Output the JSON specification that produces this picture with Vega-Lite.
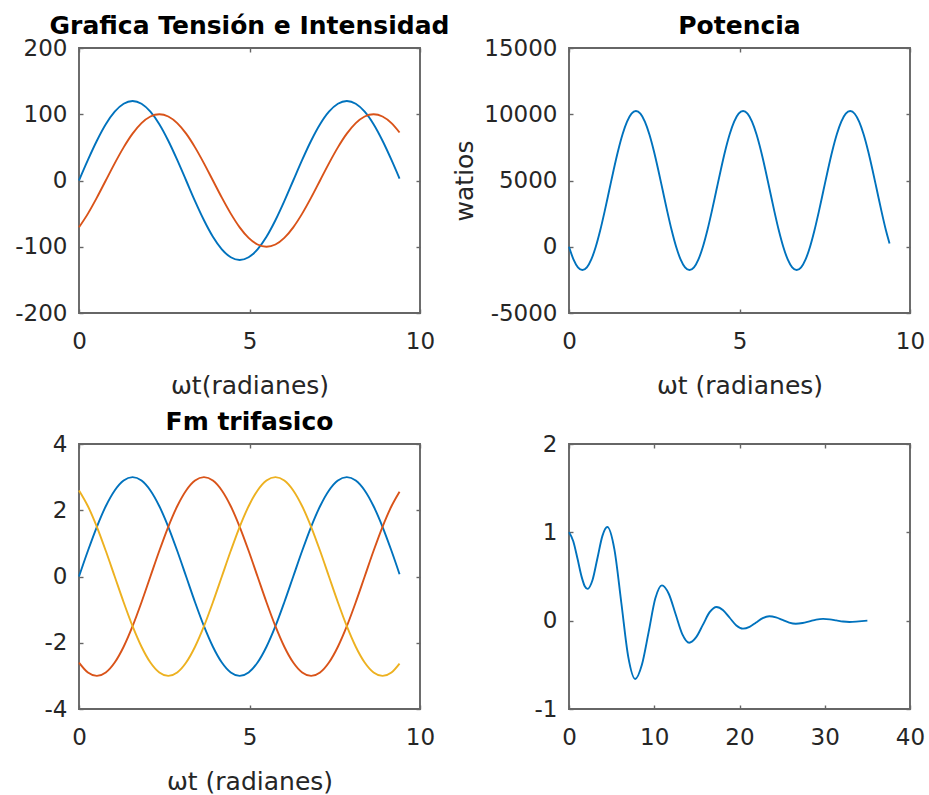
{
  "$schema": "https://vega.github.io/schema/vega-lite/v6.json",
  "padding": {"left": 13, "top": 13, "right": 5, "bottom": 2},
  "background": "white",
  "bounds": "flush",
  "columns": 2,
  "spacing": {"row": 131, "column": 149},
  "datasets": {
    "p1": [
      {"x":0,"y":0,"s":"blue"},{"x":0.262,"y":31.1,"s":"blue"},{"x":0.524,"y":60,"s":"blue"},{"x":0.785,"y":84.9,"s":"blue"},{"x":1.047,"y":103.9,"s":"blue"},{"x":1.309,"y":115.9,"s":"blue"},{"x":1.571,"y":120,"s":"blue"},{"x":1.833,"y":115.9,"s":"blue"},{"x":2.094,"y":103.9,"s":"blue"},{"x":2.356,"y":84.9,"s":"blue"},{"x":2.618,"y":60,"s":"blue"},{"x":2.88,"y":31.1,"s":"blue"},{"x":3.142,"y":0,"s":"blue"},{"x":3.403,"y":-31.1,"s":"blue"},{"x":3.665,"y":-60,"s":"blue"},{"x":3.927,"y":-84.9,"s":"blue"},{"x":4.189,"y":-103.9,"s":"blue"},{"x":4.451,"y":-115.9,"s":"blue"},{"x":4.712,"y":-120,"s":"blue"},{"x":4.974,"y":-115.9,"s":"blue"},{"x":5.236,"y":-103.9,"s":"blue"},{"x":5.498,"y":-84.9,"s":"blue"},{"x":5.76,"y":-60,"s":"blue"},{"x":6.021,"y":-31.1,"s":"blue"},{"x":6.283,"y":0,"s":"blue"},{"x":6.545,"y":31.1,"s":"blue"},{"x":6.807,"y":60,"s":"blue"},{"x":7.069,"y":84.9,"s":"blue"},{"x":7.33,"y":103.9,"s":"blue"},{"x":7.592,"y":115.9,"s":"blue"},{"x":7.854,"y":120,"s":"blue"},{"x":8.116,"y":115.9,"s":"blue"},{"x":8.378,"y":103.9,"s":"blue"},{"x":8.639,"y":84.9,"s":"blue"},{"x":8.901,"y":60,"s":"blue"},{"x":9.163,"y":31.1,"s":"blue"},{"x":9.4,"y":3,"s":"blue"},
      {"x":0,"y":-70.7,"s":"orange"},{"x":0.262,"y":-50,"s":"orange"},{"x":0.524,"y":-25.9,"s":"orange"},{"x":0.785,"y":0,"s":"orange"},{"x":1.047,"y":25.9,"s":"orange"},{"x":1.309,"y":50,"s":"orange"},{"x":1.571,"y":70.7,"s":"orange"},{"x":1.833,"y":86.6,"s":"orange"},{"x":2.094,"y":96.6,"s":"orange"},{"x":2.356,"y":100,"s":"orange"},{"x":2.618,"y":96.6,"s":"orange"},{"x":2.88,"y":86.6,"s":"orange"},{"x":3.142,"y":70.7,"s":"orange"},{"x":3.403,"y":50,"s":"orange"},{"x":3.665,"y":25.9,"s":"orange"},{"x":3.927,"y":0,"s":"orange"},{"x":4.189,"y":-25.9,"s":"orange"},{"x":4.451,"y":-50,"s":"orange"},{"x":4.712,"y":-70.7,"s":"orange"},{"x":4.974,"y":-86.6,"s":"orange"},{"x":5.236,"y":-96.6,"s":"orange"},{"x":5.498,"y":-100,"s":"orange"},{"x":5.76,"y":-96.6,"s":"orange"},{"x":6.021,"y":-86.6,"s":"orange"},{"x":6.283,"y":-70.7,"s":"orange"},{"x":6.545,"y":-50,"s":"orange"},{"x":6.807,"y":-25.9,"s":"orange"},{"x":7.069,"y":0,"s":"orange"},{"x":7.33,"y":25.9,"s":"orange"},{"x":7.592,"y":50,"s":"orange"},{"x":7.854,"y":70.7,"s":"orange"},{"x":8.116,"y":86.6,"s":"orange"},{"x":8.378,"y":96.6,"s":"orange"},{"x":8.639,"y":100,"s":"orange"},{"x":8.901,"y":96.6,"s":"orange"},{"x":9.163,"y":86.6,"s":"orange"},{"x":9.4,"y":72.5,"s":"orange"}
    ],
    "p2": [
      {"x":0,"y":0,"s":"blue"},{"x":0.131,"y":-953,"s":"blue"},{"x":0.262,"y":-1553,"s":"blue"},{"x":0.393,"y":-1757,"s":"blue"},{"x":0.524,"y":-1553,"s":"blue"},{"x":0.654,"y":-953,"s":"blue"},{"x":0.785,"y":0,"s":"blue"},{"x":0.916,"y":1243,"s":"blue"},{"x":1.047,"y":2690,"s":"blue"},{"x":1.178,"y":4243,"s":"blue"},{"x":1.309,"y":5796,"s":"blue"},{"x":1.44,"y":7243,"s":"blue"},{"x":1.571,"y":8486,"s":"blue"},{"x":1.702,"y":9439,"s":"blue"},{"x":1.833,"y":10039,"s":"blue"},{"x":1.963,"y":10243,"s":"blue"},{"x":2.094,"y":10039,"s":"blue"},{"x":2.225,"y":9439,"s":"blue"},{"x":2.356,"y":8486,"s":"blue"},{"x":2.487,"y":7243,"s":"blue"},{"x":2.618,"y":5796,"s":"blue"},{"x":2.749,"y":4243,"s":"blue"},{"x":2.88,"y":2690,"s":"blue"},{"x":3.011,"y":1243,"s":"blue"},
      {"x":3.142,"y":0,"s":"blue"},{"x":3.272,"y":-953,"s":"blue"},{"x":3.403,"y":-1553,"s":"blue"},{"x":3.534,"y":-1757,"s":"blue"},{"x":3.665,"y":-1553,"s":"blue"},{"x":3.796,"y":-953,"s":"blue"},{"x":3.927,"y":0,"s":"blue"},{"x":4.058,"y":1243,"s":"blue"},{"x":4.189,"y":2690,"s":"blue"},{"x":4.32,"y":4243,"s":"blue"},{"x":4.451,"y":5796,"s":"blue"},{"x":4.581,"y":7243,"s":"blue"},{"x":4.712,"y":8486,"s":"blue"},{"x":4.843,"y":9439,"s":"blue"},{"x":4.974,"y":10039,"s":"blue"},{"x":5.105,"y":10243,"s":"blue"},{"x":5.236,"y":10039,"s":"blue"},{"x":5.367,"y":9439,"s":"blue"},{"x":5.498,"y":8486,"s":"blue"},{"x":5.629,"y":7243,"s":"blue"},{"x":5.76,"y":5796,"s":"blue"},{"x":5.89,"y":4243,"s":"blue"},{"x":6.021,"y":2690,"s":"blue"},{"x":6.152,"y":1243,"s":"blue"},
      {"x":6.283,"y":0,"s":"blue"},{"x":6.414,"y":-953,"s":"blue"},{"x":6.545,"y":-1553,"s":"blue"},{"x":6.676,"y":-1757,"s":"blue"},{"x":6.807,"y":-1553,"s":"blue"},{"x":6.938,"y":-953,"s":"blue"},{"x":7.069,"y":0,"s":"blue"},{"x":7.199,"y":1243,"s":"blue"},{"x":7.33,"y":2690,"s":"blue"},{"x":7.461,"y":4243,"s":"blue"},{"x":7.592,"y":5796,"s":"blue"},{"x":7.723,"y":7243,"s":"blue"},{"x":7.854,"y":8486,"s":"blue"},{"x":7.985,"y":9439,"s":"blue"},{"x":8.116,"y":10039,"s":"blue"},{"x":8.247,"y":10243,"s":"blue"},{"x":8.378,"y":10039,"s":"blue"},{"x":8.508,"y":9439,"s":"blue"},{"x":8.639,"y":8486,"s":"blue"},{"x":8.77,"y":7243,"s":"blue"},{"x":8.901,"y":5796,"s":"blue"},{"x":9.032,"y":4243,"s":"blue"},{"x":9.163,"y":2690,"s":"blue"},{"x":9.294,"y":1243,"s":"blue"},{"x":9.4,"y":250,"s":"blue"}
    ],
    "p3": [
      {"x":0,"y":0,"s":"blue"},{"x":0.262,"y":0.776,"s":"blue"},{"x":0.524,"y":1.5,"s":"blue"},{"x":0.785,"y":2.121,"s":"blue"},{"x":1.047,"y":2.598,"s":"blue"},{"x":1.309,"y":2.898,"s":"blue"},{"x":1.571,"y":3,"s":"blue"},{"x":1.833,"y":2.898,"s":"blue"},{"x":2.094,"y":2.598,"s":"blue"},{"x":2.356,"y":2.121,"s":"blue"},{"x":2.618,"y":1.5,"s":"blue"},{"x":2.88,"y":0.776,"s":"blue"},{"x":3.142,"y":0,"s":"blue"},{"x":3.403,"y":-0.776,"s":"blue"},{"x":3.665,"y":-1.5,"s":"blue"},{"x":3.927,"y":-2.121,"s":"blue"},{"x":4.189,"y":-2.598,"s":"blue"},{"x":4.451,"y":-2.898,"s":"blue"},{"x":4.712,"y":-3,"s":"blue"},{"x":4.974,"y":-2.898,"s":"blue"},{"x":5.236,"y":-2.598,"s":"blue"},{"x":5.498,"y":-2.121,"s":"blue"},{"x":5.76,"y":-1.5,"s":"blue"},{"x":6.021,"y":-0.776,"s":"blue"},{"x":6.283,"y":0,"s":"blue"},{"x":6.545,"y":0.776,"s":"blue"},{"x":6.807,"y":1.5,"s":"blue"},{"x":7.069,"y":2.121,"s":"blue"},{"x":7.33,"y":2.598,"s":"blue"},{"x":7.592,"y":2.898,"s":"blue"},{"x":7.854,"y":3,"s":"blue"},{"x":8.116,"y":2.898,"s":"blue"},{"x":8.378,"y":2.598,"s":"blue"},{"x":8.639,"y":2.121,"s":"blue"},{"x":8.901,"y":1.5,"s":"blue"},{"x":9.163,"y":0.776,"s":"blue"},{"x":9.4,"y":0.07,"s":"blue"},
      {"x":0,"y":-2.598,"s":"orange"},{"x":0.262,"y":-2.898,"s":"orange"},{"x":0.524,"y":-3,"s":"orange"},{"x":0.785,"y":-2.898,"s":"orange"},{"x":1.047,"y":-2.598,"s":"orange"},{"x":1.309,"y":-2.121,"s":"orange"},{"x":1.571,"y":-1.5,"s":"orange"},{"x":1.833,"y":-0.776,"s":"orange"},{"x":2.094,"y":0,"s":"orange"},{"x":2.356,"y":0.776,"s":"orange"},{"x":2.618,"y":1.5,"s":"orange"},{"x":2.88,"y":2.121,"s":"orange"},{"x":3.142,"y":2.598,"s":"orange"},{"x":3.403,"y":2.898,"s":"orange"},{"x":3.665,"y":3,"s":"orange"},{"x":3.927,"y":2.898,"s":"orange"},{"x":4.189,"y":2.598,"s":"orange"},{"x":4.451,"y":2.121,"s":"orange"},{"x":4.712,"y":1.5,"s":"orange"},{"x":4.974,"y":0.776,"s":"orange"},{"x":5.236,"y":0,"s":"orange"},{"x":5.498,"y":-0.776,"s":"orange"},{"x":5.76,"y":-1.5,"s":"orange"},{"x":6.021,"y":-2.121,"s":"orange"},{"x":6.283,"y":-2.598,"s":"orange"},{"x":6.545,"y":-2.898,"s":"orange"},{"x":6.807,"y":-3,"s":"orange"},{"x":7.069,"y":-2.898,"s":"orange"},{"x":7.33,"y":-2.598,"s":"orange"},{"x":7.592,"y":-2.121,"s":"orange"},{"x":7.854,"y":-1.5,"s":"orange"},{"x":8.116,"y":-0.776,"s":"orange"},{"x":8.378,"y":0,"s":"orange"},{"x":8.639,"y":0.776,"s":"orange"},{"x":8.901,"y":1.5,"s":"orange"},{"x":9.163,"y":2.121,"s":"orange"},{"x":9.4,"y":2.56,"s":"orange"},
      {"x":0,"y":2.598,"s":"yellow"},{"x":0.262,"y":2.121,"s":"yellow"},{"x":0.524,"y":1.5,"s":"yellow"},{"x":0.785,"y":0.776,"s":"yellow"},{"x":1.047,"y":0,"s":"yellow"},{"x":1.309,"y":-0.776,"s":"yellow"},{"x":1.571,"y":-1.5,"s":"yellow"},{"x":1.833,"y":-2.121,"s":"yellow"},{"x":2.094,"y":-2.598,"s":"yellow"},{"x":2.356,"y":-2.898,"s":"yellow"},{"x":2.618,"y":-3,"s":"yellow"},{"x":2.88,"y":-2.898,"s":"yellow"},{"x":3.142,"y":-2.598,"s":"yellow"},{"x":3.403,"y":-2.121,"s":"yellow"},{"x":3.665,"y":-1.5,"s":"yellow"},{"x":3.927,"y":-0.776,"s":"yellow"},{"x":4.189,"y":0,"s":"yellow"},{"x":4.451,"y":0.776,"s":"yellow"},{"x":4.712,"y":1.5,"s":"yellow"},{"x":4.974,"y":2.121,"s":"yellow"},{"x":5.236,"y":2.598,"s":"yellow"},{"x":5.498,"y":2.898,"s":"yellow"},{"x":5.76,"y":3,"s":"yellow"},{"x":6.021,"y":2.898,"s":"yellow"},{"x":6.283,"y":2.598,"s":"yellow"},{"x":6.545,"y":2.121,"s":"yellow"},{"x":6.807,"y":1.5,"s":"yellow"},{"x":7.069,"y":0.776,"s":"yellow"},{"x":7.33,"y":0,"s":"yellow"},{"x":7.592,"y":-0.776,"s":"yellow"},{"x":7.854,"y":-1.5,"s":"yellow"},{"x":8.116,"y":-2.121,"s":"yellow"},{"x":8.378,"y":-2.598,"s":"yellow"},{"x":8.639,"y":-2.898,"s":"yellow"},{"x":8.901,"y":-3,"s":"yellow"},{"x":9.163,"y":-2.898,"s":"yellow"},{"x":9.4,"y":-2.63,"s":"yellow"}
    ],
    "p4": [
      {"x":0,"y":1.0,"s":"blue"},{"x":0.5,"y":0.9,"s":"blue"},{"x":1.0,"y":0.7,"s":"blue"},{"x":1.5,"y":0.49,"s":"blue"},{"x":1.85,"y":0.39,"s":"blue"},{"x":2.18,"y":0.36,"s":"blue"},{"x":2.76,"y":0.46,"s":"blue"},{"x":3.34,"y":0.71,"s":"blue"},{"x":3.92,"y":0.96,"s":"blue"},{"x":4.5,"y":1.06,"s":"blue"},{"x":5.32,"y":0.81,"s":"blue"},{"x":6.14,"y":0.2,"s":"blue"},{"x":6.95,"y":-0.41,"s":"blue"},{"x":7.77,"y":-0.66,"s":"blue"},{"x":8.55,"y":-0.5,"s":"blue"},{"x":9.34,"y":-0.13,"s":"blue"},{"x":10.12,"y":0.25,"s":"blue"},{"x":10.9,"y":0.4,"s":"blue"},{"x":11.7,"y":0.305,"s":"blue"},{"x":12.5,"y":0.075,"s":"blue"},{"x":13.3,"y":-0.155,"s":"blue"},{"x":14.1,"y":-0.25,"s":"blue"},{"x":14.9,"y":-0.19,"s":"blue"},{"x":15.7,"y":-0.048,"s":"blue"},{"x":16.5,"y":0.096,"s":"blue"},{"x":17.3,"y":0.155,"s":"blue"},{"x":18.08,"y":0.119,"s":"blue"},{"x":18.85,"y":0.033,"s":"blue"},{"x":19.63,"y":-0.054,"s":"blue"},{"x":20.4,"y":-0.09,"s":"blue"},{"x":21.18,"y":-0.07,"s":"blue"},{"x":21.95,"y":-0.02,"s":"blue"},{"x":22.73,"y":0.03,"s":"blue"},{"x":23.5,"y":0.05,"s":"blue"},{"x":24.28,"y":0.037,"s":"blue"},{"x":25.05,"y":0.008,"s":"blue"},{"x":25.83,"y":-0.022,"s":"blue"},{"x":26.6,"y":-0.035,"s":"blue"},{"x":27.4,"y":-0.027,"s":"blue"},{"x":28.2,"y":-0.008,"s":"blue"},{"x":29.0,"y":0.012,"s":"blue"},{"x":29.8,"y":0.02,"s":"blue"},{"x":30.58,"y":0.015,"s":"blue"},{"x":31.35,"y":0.003,"s":"blue"},{"x":32.13,"y":-0.01,"s":"blue"},{"x":32.9,"y":-0.015,"s":"blue"},{"x":34.0,"y":-0.008,"s":"blue"},{"x":35.0,"y":0.0,"s":"blue"}
    ]
  },
  "concat": [
    {
      "width": 341, "height": 265,
      "title": "Grafica Tensión e Intensidad",
      "data": {"name": "p1"},
      "layer": [
        {"mark": {"type": "line"}, "encoding": {
          "x": {"field": "x", "type": "quantitative", "scale": {"domain": [0, 10], "nice": false}, "axis": {"values": [0, 5, 10], "title": "ωt(radianes)"}},
          "y": {"field": "y", "type": "quantitative", "scale": {"domain": [-200, 200], "nice": false}, "axis": {"values": [-200, -100, 0, 100, 200], "title": null}},
          "color": {"field": "s", "type": "nominal", "scale": {"domain": ["blue", "orange", "yellow"], "range": ["#0072BD", "#D95319", "#EDB120"]}, "legend": null}
        }},
        {"mark": {"type": "line", "strokeOpacity": 0}, "encoding": {
          "x": {"field": "x", "type": "quantitative", "axis": {"orient": "top", "values": [0, 5, 10], "labels": false, "title": null}},
          "y": {"field": "y", "type": "quantitative", "axis": {"orient": "right", "values": [-200, -100, 0, 100, 200], "labels": false, "title": null}},
          "detail": {"field": "s"}
        }}
      ],
      "resolve": {"axis": {"x": "independent", "y": "independent"}}
    },
    {
      "width": 341, "height": 265,
      "title": "Potencia",
      "data": {"name": "p2"},
      "layer": [
        {"mark": {"type": "line"}, "encoding": {
          "x": {"field": "x", "type": "quantitative", "scale": {"domain": [0, 10], "nice": false}, "axis": {"values": [0, 5, 10], "title": "ωt (radianes)"}},
          "y": {"field": "y", "type": "quantitative", "scale": {"domain": [-5000, 15000], "nice": false}, "axis": {"values": [-5000, 0, 5000, 10000, 15000], "title": "watios", "titlePadding": 6}},
          "color": {"field": "s", "type": "nominal", "scale": {"domain": ["blue", "orange", "yellow"], "range": ["#0072BD", "#D95319", "#EDB120"]}, "legend": null}
        }},
        {"mark": {"type": "line", "strokeOpacity": 0}, "encoding": {
          "x": {"field": "x", "type": "quantitative", "axis": {"orient": "top", "values": [0, 5, 10], "labels": false, "title": null}},
          "y": {"field": "y", "type": "quantitative", "axis": {"orient": "right", "values": [-5000, 0, 5000, 10000, 15000], "labels": false, "title": null}},
          "detail": {"field": "s"}
        }}
      ],
      "resolve": {"axis": {"x": "independent", "y": "independent"}}
    },
    {
      "width": 341, "height": 265,
      "title": "Fm trifasico",
      "data": {"name": "p3"},
      "layer": [
        {"mark": {"type": "line"}, "encoding": {
          "x": {"field": "x", "type": "quantitative", "scale": {"domain": [0, 10], "nice": false}, "axis": {"values": [0, 5, 10], "title": "ωt (radianes)"}},
          "y": {"field": "y", "type": "quantitative", "scale": {"domain": [-4, 4], "nice": false}, "axis": {"values": [-4, -2, 0, 2, 4], "title": null}},
          "color": {"field": "s", "type": "nominal", "scale": {"domain": ["blue", "orange", "yellow"], "range": ["#0072BD", "#D95319", "#EDB120"]}, "legend": null}
        }},
        {"mark": {"type": "line", "strokeOpacity": 0}, "encoding": {
          "x": {"field": "x", "type": "quantitative", "axis": {"orient": "top", "values": [0, 5, 10], "labels": false, "title": null}},
          "y": {"field": "y", "type": "quantitative", "axis": {"orient": "right", "values": [-4, -2, 0, 2, 4], "labels": false, "title": null}},
          "detail": {"field": "s"}
        }}
      ],
      "resolve": {"axis": {"x": "independent", "y": "independent"}}
    },
    {
      "width": 341, "height": 265,
      "data": {"name": "p4"},
      "layer": [
        {"mark": {"type": "line"}, "encoding": {
          "x": {"field": "x", "type": "quantitative", "scale": {"domain": [0, 40], "nice": false}, "axis": {"values": [0, 10, 20, 30, 40], "title": null}},
          "y": {"field": "y", "type": "quantitative", "scale": {"domain": [-1, 2], "nice": false}, "axis": {"values": [-1, 0, 1, 2], "title": null}},
          "color": {"field": "s", "type": "nominal", "scale": {"domain": ["blue", "orange", "yellow"], "range": ["#0072BD", "#D95319", "#EDB120"]}, "legend": null}
        }},
        {"mark": {"type": "line", "strokeOpacity": 0}, "encoding": {
          "x": {"field": "x", "type": "quantitative", "axis": {"orient": "top", "values": [0, 10, 20, 30, 40], "labels": false, "title": null}},
          "y": {"field": "y", "type": "quantitative", "axis": {"orient": "right", "values": [-1, 0, 1, 2], "labels": false, "title": null}},
          "detail": {"field": "s"}
        }}
      ],
      "resolve": {"axis": {"x": "independent", "y": "independent"}}
    }
  ],
  "config": {
    "font": "DejaVu Sans",
    "view": {"stroke": "#666666", "strokeWidth": 1.9},
    "line": {"strokeWidth": 1.9, "interpolate": "monotone"},
    "axis": {
      "grid": false, "domain": false,
      "tickSize": -4, "tickColor": "#666666", "tickWidth": 1.4,
      "labelFont": "DejaVu Sans", "labelFontSize": 23, "labelColor": "#262626",
      "labelFlush": false, "labelOverlap": false,
      "labelExpr": "'' + datum.value",
      "titleFont": "DejaVu Sans", "titleFontSize": 25, "titleFontWeight": "normal", "titleColor": "#262626"
    },
    "axisX": {"labelPadding": 21, "titlePadding": 20},
    "axisY": {"labelPadding": 16, "titlePadding": 6},
    "title": {"font": "DejaVu Sans", "fontSize": 25, "fontWeight": "bold", "color": "#000000", "frame": "group", "anchor": "middle", "baseline": "alphabetic", "offset": -2}
  }
}
